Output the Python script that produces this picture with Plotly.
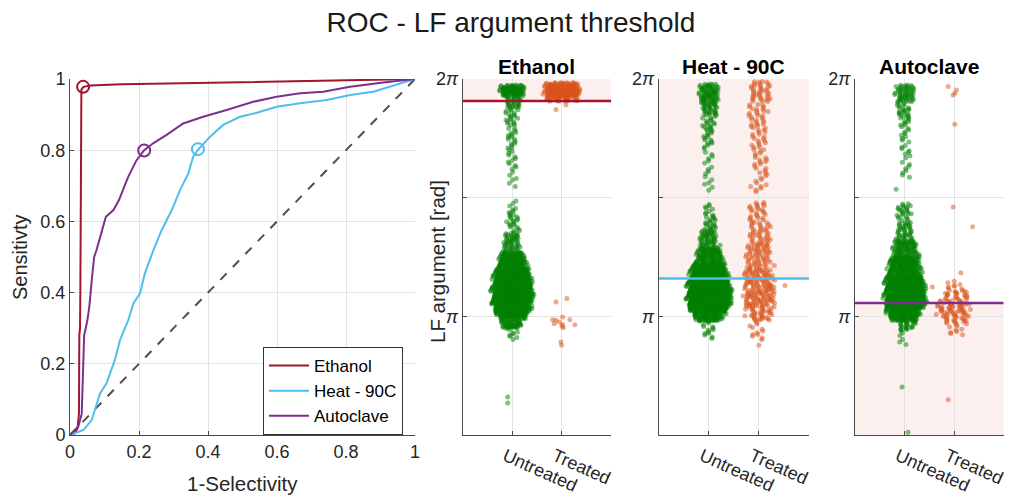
import numpy as np
import plotly.graph_objects as go

PI = np.pi

# ---------------- ROC data ----------------
roc_names = ["Ethanol", "Heat - 90C", "Autoclave"]
roc_colors = ["#A2142F", "#4DBEEE", "#7E2F8E"]

fpr_ethanol = [0, 0.015, 0.022, 0.026, 0.027, 0.029, 0.030, 0.031, 0.033, 0.039, 0.06, 0.15, 0.3, 0.5, 0.7, 0.85, 1.0]
tpr_ethanol = [0, 0.005, 0.02, 0.06, 0.28, 0.30, 0.40, 0.95, 0.97, 0.978, 0.982, 0.985, 0.988, 0.991, 0.994, 0.997, 1.0]

fpr_heat = [0, 0.039, 0.063, 0.077, 0.087, 0.106, 0.13, 0.145, 0.169, 0.184, 0.203, 0.217, 0.242, 0.266, 0.295,
            0.319, 0.343, 0.357, 0.372, 0.406, 0.444, 0.493, 0.541, 0.599, 0.667, 0.744, 0.812, 0.879, 0.957, 1.0]
tpr_heat = [0, 0.014, 0.042, 0.089, 0.117, 0.145, 0.211, 0.267, 0.323, 0.37, 0.398, 0.454, 0.52, 0.576, 0.632,
            0.688, 0.735, 0.782, 0.802, 0.838, 0.871, 0.894, 0.905, 0.922, 0.932, 0.941, 0.955, 0.964, 0.988, 1.0]

fpr_auto = [0, 0.024, 0.034, 0.037, 0.041, 0.05, 0.056, 0.063, 0.07, 0.077, 0.087, 0.104, 0.126, 0.142, 0.159,
            0.169, 0.193, 0.214, 0.242, 0.28, 0.328, 0.386, 0.454, 0.531, 0.599, 0.667, 0.734, 0.812, 0.908, 1.0]
tpr_auto = [0, 0.023, 0.06, 0.16, 0.28, 0.32, 0.36, 0.435, 0.5, 0.52, 0.557, 0.613, 0.632, 0.66, 0.702,
            0.726, 0.772, 0.799, 0.82, 0.843, 0.875, 0.894, 0.913, 0.936, 0.95, 0.96, 0.964, 0.978, 0.99, 1.0]

op_fpr = [0.038, 0.371, 0.215]
op_tpr = [0.978, 0.803, 0.799]

# ---------------- Swarm data (LF argument, in units of pi) ----------------
panel_titles = ["Ethanol", "Heat - 90C", "Autoclave"]
categories = ["Untreated", "Treated"]
thresholds = [1.907, 1.159, 1.056]          # in units of pi
shade_above = [True, True, False]

# bins: (low, high, count)  -- y in units of pi
eth_unt_bins = [(1.93, 1.975, 80), (1.88, 1.93, 30), (1.80, 1.88, 22), (1.70, 1.80, 18), (1.62, 1.70, 11),
                (1.545, 1.62, 6), (1.43, 1.49, 8), (1.35, 1.43, 20), (1.27, 1.35, 50), (1.20, 1.27, 150),
                (1.13, 1.20, 320), (1.06, 1.13, 400), (1.00, 1.06, 280), (0.95, 1.00, 70), (0.90, 0.95, 8)]
eth_unt_extra = [(-0.09, 0.66), (-0.09, 0.635)]
eth_trt_bins = [(1.955, 1.985, 80), (1.925, 1.955, 100), (1.905, 1.925, 35)]
eth_trt_extra = [(-0.113, 1.872), (0.087, 1.890), (-0.113, 1.060), (0.107, 1.075), (-0.18, 0.986),
                 (-0.113, 0.983), (0.02, 0.997), (0.02, 0.966), (0.033, 0.952), (0.167, 0.986),
                 (0.267, 0.965), (-0.013, 0.892), (0.0, 0.878), (-0.047, 0.976), (0.007, 0.958), (-0.147, 0.969)]

heat_unt_bins = [(1.90, 1.98, 75), (1.85, 1.90, 30), (1.78, 1.85, 20), (1.70, 1.78, 15), (1.60, 1.70, 10),
                 (1.53, 1.60, 6), (1.42, 1.475, 10), (1.36, 1.42, 20), (1.29, 1.36, 50), (1.22, 1.29, 120),
                 (1.15, 1.22, 300), (1.08, 1.15, 450), (1.02, 1.08, 380), (0.98, 1.02, 100), (0.90, 0.98, 14)]
heat_unt_extra = []
heat_trt_bins = [(1.90, 1.99, 38), (1.80, 1.90, 28), (1.70, 1.80, 22), (1.60, 1.70, 18), (1.52, 1.60, 12),
                 (1.40, 1.48, 26), (1.30, 1.40, 42), (1.20, 1.30, 58), (1.12, 1.20, 70), (1.04, 1.12, 75),
                 (0.98, 1.04, 38), (0.90, 0.98, 12)]
heat_trt_extra = [(0.0, 0.878), (0.52, 1.13)]

auto_unt_bins = [(1.90, 1.975, 55), (1.84, 1.90, 20), (1.76, 1.84, 14), (1.68, 1.76, 10), (1.58, 1.68, 10),
                 (1.40, 1.475, 25), (1.32, 1.40, 40), (1.25, 1.32, 90), (1.17, 1.25, 200), (1.10, 1.17, 300),
                 (1.03, 1.10, 340), (0.98, 1.03, 130), (0.94, 0.98, 22), (0.88, 0.94, 5)]
auto_unt_extra = [(-0.17, 1.535), (-0.05, 0.702), (0.07, 0.512)]
auto_trt_bins = [(1.11, 1.15, 8), (1.07, 1.11, 22), (1.02, 1.07, 40), (0.97, 1.02, 30), (0.92, 0.97, 10)]
auto_trt_extra = [(-0.12, 1.968), (0.047, 1.954), (0.014, 1.940), (-0.02, 1.933), (0.014, 1.809),
                  (-0.02, 1.461), (0.372, 1.377), (0.135, 1.184), (-0.44, 1.124), (-0.12, 0.648), (-0.36, 1.008)]

groups = [
    [(eth_unt_bins, eth_unt_extra, 0.40), (eth_trt_bins, eth_trt_extra, 0.37)],
    [(heat_unt_bins, heat_unt_extra, 0.42), (heat_trt_bins, heat_trt_extra, 0.31)],
    [(auto_unt_bins, auto_unt_extra, 0.41), (auto_trt_bins, auto_trt_extra, 0.33)],
]
dot_colors = ["#008000", "#D95319"]

# low-discrepancy jitter constants (R3 sequence)
A1, A2, A3 = 0.8191725134, 0.6710436067, 0.5497004779


def swarm_points(center, bins, extras, W):
    lo = np.array([b[0] for b in bins], float)
    hi = np.array([b[1] for b in bins], float)
    cnt = np.array([b[2] for b in bins], float)
    dens = cnt / (hi - lo)
    rel = np.clip((dens / dens.max()) ** 0.4, 0.25, 1.0)
    mids = (lo + hi) / 2
    order = np.argsort(mids)
    xs, ys = [], []
    k = 0
    for a, b, c in bins:
        for i in range(c):
            u = (0.5 + k * A1) % 1.0
            v = (0.5 + k * A2) % 1.0
            w = (0.5 + k * A3) % 1.0
            y = a + (b - a) * u
            hw = W * np.interp(y, mids[order], rel[order]) * (0.8 + 0.35 * w)
            xs.append(center + hw * (2 * v - 1))
            ys.append(y * PI)
            k += 1
    for dx, y in extras:
        xs.append(center + dx)
        ys.append(y * PI)
    return xs, ys


FONT = "Liberation Sans, Arial, Helvetica, sans-serif"
TXT = "#262626"
AX = "#4a4a4a"
GRID = "#E3E3E3"
SHADE = "#FBF0EE"

fig = go.Figure()

# diagonal
fig.add_trace(go.Scatter(x=[0, 1], y=[0, 1], mode="lines", line=dict(color="#4d4d4d", width=2, dash="dash"),
                         showlegend=False, hoverinfo="skip"))
for name, col, fx, ty in zip(roc_names, roc_colors, [fpr_ethanol, fpr_heat, fpr_auto],
                             [tpr_ethanol, tpr_heat, tpr_auto]):
    fig.add_trace(go.Scatter(x=fx, y=ty, mode="lines", name=name, line=dict(color=col, width=2)))
for i, col in enumerate(roc_colors):
    fig.add_trace(go.Scatter(x=[op_fpr[i]], y=[op_tpr[i]], mode="markers", showlegend=False,
                             marker=dict(symbol="circle-open", size=12, color=col, line=dict(width=2, color=col))))

# panels geometry (pixels)
W_PX, H_PX = 1009, 495
panel_x = [(462.7, 611.0), (658.7, 809.0), (855.0, 1003.7)]
top_px, bot_px = 79, 435

shapes = []
annotations = []
for p in range(3):
    ax_id = p + 2
    xa = "x%d" % ax_id
    ya = "y%d" % ax_id
    for c in range(2):
        bins, extra, W = groups[p][c]
        xs, ys = swarm_points(c + 1, bins, extra, W)
        fig.add_trace(go.Scatter(x=xs, y=ys, mode="markers", xaxis=xa, yaxis=ya, showlegend=False,
                                 hoverinfo="skip",
                                 marker=dict(size=5, color=dot_colors[c], opacity=0.5, line=dict(width=0))))
    thr = thresholds[p] * PI
    fig.add_trace(go.Scatter(x=[0, 3], y=[thr, thr], mode="lines", xaxis=xa, yaxis=ya, showlegend=False,
                             hoverinfo="skip", line=dict(color=roc_colors[p], width=2.5)))
    if shade_above[p]:
        y0, y1 = thr, 2 * PI
    else:
        y0, y1 = PI / 2, thr
    shapes.append(dict(type="rect", xref=xa, yref=ya, x0=0, x1=3, y0=y0, y1=y1, fillcolor=SHADE,
                       line=dict(width=0), layer="below"))
    cx = (panel_x[p][0] + panel_x[p][1]) / 2 / W_PX
    annotations.append(dict(text="<b>%s</b>" % panel_titles[p], x=cx, y=1 - 67 / H_PX, xref="paper", yref="paper",
                            showarrow=False, font=dict(size=21, color="#000000", family=FONT),
                            xanchor="center", yanchor="middle"))

annotations.append(dict(text="Sensitivty", x=20 / W_PX, y=1 - 257 / H_PX, xref="paper", yref="paper",
                        textangle=-90, showarrow=False, font=dict(size=20, color=TXT, family=FONT),
                        xanchor="center", yanchor="middle"))
annotations.append(dict(text="1-Selectivity", x=242 / W_PX, y=1 - 483 / H_PX, xref="paper", yref="paper",
                        showarrow=False, font=dict(size=20.5, color=TXT, family=FONT),
                        xanchor="center", yanchor="middle"))
annotations.append(dict(text="LF argument [rad]", x=437 / W_PX, y=1 - 262 / H_PX, xref="paper", yref="paper",
                        textangle=-90, showarrow=False, font=dict(size=20.5, color=TXT, family=FONT),
                        xanchor="center", yanchor="middle"))

common_ax = dict(showline=True, linecolor=AX, linewidth=1, ticks="inside", ticklen=4, tickcolor=AX,
                 showgrid=True, gridcolor=GRID, gridwidth=1, zeroline=False, automargin=False,
                 ticklabeloverflow="allow",
                 tickfont=dict(size=18, color=TXT, family=FONT))

layout = dict(
    width=W_PX, height=H_PX, margin=dict(l=0, r=0, t=0, b=0, autoexpand=False),
    paper_bgcolor="white", plot_bgcolor="white",
    font=dict(family=FONT, color=TXT),
    title=dict(text="ROC - LF argument threshold", x=511 / W_PX, xanchor="center", y=1 - 22 / H_PX,
               yanchor="middle", font=dict(size=28, color="#1a1a1a", family=FONT)),
    showlegend=True,
    legend=dict(x=403 / W_PX, xanchor="right", y=1 - 347 / H_PX, yanchor="top", bgcolor="white",
                bordercolor="#333333", borderwidth=1, font=dict(size=17, color="#000000", family=FONT),
                tracegroupgap=0, itemwidth=40),
    xaxis=dict(domain=[70 / W_PX, 415 / W_PX], range=[0, 1], tickvals=[0, 0.2, 0.4, 0.6, 0.8, 1],
               ticktext=["0", "0.2", "0.4", "0.6", "0.8", "1"], anchor="y", **common_ax),
    yaxis=dict(domain=[1 - bot_px / H_PX, 1 - top_px / H_PX], range=[0, 1], tickvals=[0, 0.2, 0.4, 0.6, 0.8, 1],
               ticktext=["0", "0.2", "0.4", "0.6", "0.8", "1"], anchor="x", **common_ax),
    shapes=shapes, annotations=annotations,
)
for p in range(3):
    i = p + 2
    layout["xaxis%d" % i] = dict(domain=[panel_x[p][0] / W_PX, panel_x[p][1] / W_PX], range=[0, 3],
                                 tickvals=[1, 2], ticktext=categories, tickangle=24, anchor="y%d" % i,
                                 ticklabelshift=-7, ticklabelstandoff=3, **common_ax)
    layout["yaxis%d" % i] = dict(domain=[1 - bot_px / H_PX, 1 - top_px / H_PX], range=[PI / 2, 2 * PI],
                                 tickvals=[PI / 2, PI, 1.5 * PI, 2 * PI],
                                 ticktext=["", "<i>π</i>", "", "2<i>π</i>"],
                                 anchor="x%d" % i, **common_ax)

fig.update_layout(**layout)
fig.write_html("out.html", config={"displayModeBar": False},
               post_script="document.body.style.margin='0';document.body.style.overflow='hidden';")
